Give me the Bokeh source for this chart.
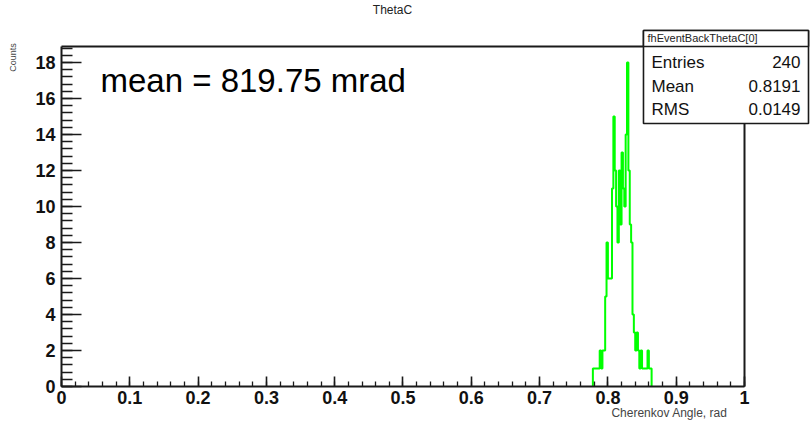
from bokeh.plotting import figure
from bokeh.models import (Range1d, SingleIntervalTicker, FixedTicker, LinearAxis,
                          Label, BoxAnnotation, NumeralTickFormatter, ColumnDataSource)
from bokeh.embed import file_html
from bokeh.resources import INLINE

# ---------------- data ----------------
bin_low_edges = [0.778, 0.780, 0.782, 0.784, 0.786, 0.788, 0.790, 0.792, 0.794, 0.796,
                 0.798, 0.800, 0.802, 0.804, 0.806, 0.808, 0.810, 0.812, 0.814, 0.816,
                 0.818, 0.820, 0.822, 0.824, 0.826, 0.828, 0.830, 0.832, 0.834, 0.836,
                 0.838, 0.840, 0.842, 0.844, 0.846, 0.848, 0.850, 0.852, 0.854, 0.856,
                 0.858, 0.860, 0.862]
bin_width = 0.002
counts = [1, 1, 1, 1, 1, 2, 1, 2, 2, 5,
          8, 6, 6, 6, 11, 15, 12, 10, 8, 12,
          9, 13, 11, 10, 14, 18, 12, 9, 8, 4,
          3, 2, 3, 2, 1, 2, 1, 1, 1, 1,
          2, 1, 1]

x_axis_min, x_axis_max = 0.0, 1.0
y_axis_min, y_axis_max = 0.0, 18.89

title_text = "ThetaC"
x_axis_title = "Cherenkov Angle, rad"
y_axis_title = "Counts"
annotation_text = "mean = 819.75 mrad"
stats_name = "fhEventBackThetaC[0]"
stats_labels = ["Entries", "Mean", "RMS"]
stats_values = ["240", "0.8191", "0.0149"]

FONT = "Liberation Sans"
FRAME = "#1a1a1a"

# ---------------- figure (frame = whole canvas, axes at fixed locations) ----------------
p = figure(width=812, height=425, title=None,
           x_range=Range1d(-0.08931, 1.09956), y_range=Range1d(-2.1667, 21.4444),
           output_backend="svg", toolbar_location=None,
           min_border=0, min_border_left=0, min_border_right=0,
           min_border_top=0, min_border_bottom=0)
p.grid.visible = False
p.outline_line_color = None
p.background_fill_color = "white"
p.border_fill_color = "white"

# histogram outline (step)
step_x = [bin_low_edges[0]] + bin_low_edges + [bin_low_edges[-1] + bin_width]
step_y = [0] + counts + [0]
src = ColumnDataSource(dict(x=step_x, y=step_y))
p.step(x="x", y="y", source=src, mode="after", line_color="#00ff00", line_width=2)

# axes styling
xa = p.xaxis[0]
xa.fixed_location = y_axis_min
xa.bounds = (x_axis_min, x_axis_max)
xa.ticker = SingleIntervalTicker(interval=0.1, num_minor_ticks=5)
xa.formatter = NumeralTickFormatter(format="0.[0]")
ya = p.yaxis[0]
ya.fixed_location = x_axis_min
ya.bounds = (y_axis_min, y_axis_max)
ya.ticker = SingleIntervalTicker(interval=2, num_minor_ticks=5)
for ax in (xa, ya):
    ax.axis_line_color = FRAME
    ax.axis_line_width = 2
    ax.major_tick_line_color = FRAME
    ax.minor_tick_line_color = FRAME
    ax.major_tick_line_width = 1.6
    ax.minor_tick_line_width = 1.3
    ax.major_tick_out = 0
    ax.minor_tick_out = 0
    ax.major_label_text_font = FONT
    ax.major_label_text_font_style = "bold"
    ax.major_label_text_font_size = "18px"
    ax.major_label_text_color = "#111111"
xa.major_tick_in = 10
xa.minor_tick_in = 5
xa.major_label_standoff = 5
ya.major_tick_in = 20
ya.minor_tick_in = 11
ya.major_label_standoff = 6

# frame top / right lines as bare axes
box_l, box_r = 0.8521, 1.0937
box_t, box_hb, box_b = 19.78, 18.89, 14.61
top_ax = LinearAxis(ticker=FixedTicker(ticks=[]), fixed_location=y_axis_max,
                    bounds=(x_axis_min, box_l), axis_line_color=FRAME, axis_line_width=2,
                    major_tick_in=0, major_tick_out=0, minor_tick_in=0, minor_tick_out=0)
p.add_layout(top_ax, "above")
right_ax = LinearAxis(ticker=FixedTicker(ticks=[]), fixed_location=x_axis_max,
                      bounds=(y_axis_min, box_b), axis_line_color=FRAME, axis_line_width=2,
                      major_tick_in=0, major_tick_out=0, minor_tick_in=0, minor_tick_out=0)
p.add_layout(right_ax, "right")

# ---------------- texts ----------------
p.add_layout(Label(x=0.4846, y=20.89, text=title_text, text_align="center",
                   text_baseline="middle", text_font=FONT, text_font_size="12px",
                   text_color="#222222"))
p.add_layout(Label(x=-0.0703, y=18.28, text=y_axis_title, angle=1.5708,
                   text_align="center", text_baseline="middle", text_font=FONT,
                   text_font_size="9px", text_color="#444444"))
p.add_layout(Label(x=0.9751, y=-1.5, text=x_axis_title, text_align="right",
                   text_baseline="middle", text_font=FONT, text_font_size="12px",
                   text_color="#444444"))
p.add_layout(Label(x=0.0571, y=17.0, text=annotation_text, text_align="left",
                   text_baseline="alphabetic", text_font=FONT, text_font_size="33px",
                   text_color="black"))

# ---------------- stats box ----------------
p.add_layout(BoxAnnotation(left=box_l, right=box_r, top=box_t, bottom=box_b,
                           fill_color="white", fill_alpha=1.0,
                           line_color=FRAME, line_alpha=1.0, line_width=1.6))
p.add_layout(BoxAnnotation(left=box_l, right=box_r, top=box_t, bottom=box_hb,
                           fill_color="white", fill_alpha=1.0,
                           line_color=FRAME, line_alpha=1.0, line_width=1.6))
p.add_layout(Label(x=0.858, y=(box_t + box_hb) / 2, text=stats_name, text_align="left",
                   text_baseline="middle", text_font=FONT, text_font_size="11px",
                   text_color="#222222"))
row_y = [18.0, 16.67, 15.39]
for lab, val, yy in zip(stats_labels, stats_values, row_y):
    p.add_layout(Label(x=0.8638, y=yy, text=lab, text_align="left",
                       text_baseline="middle", text_font=FONT, text_font_size="17px",
                       text_color="#111111"))
    p.add_layout(Label(x=1.082, y=yy, text=val, text_align="right",
                       text_baseline="middle", text_font=FONT, text_font_size="17px",
                       text_color="#111111"))

open("out.html", "w").write(file_html(p, INLINE))
